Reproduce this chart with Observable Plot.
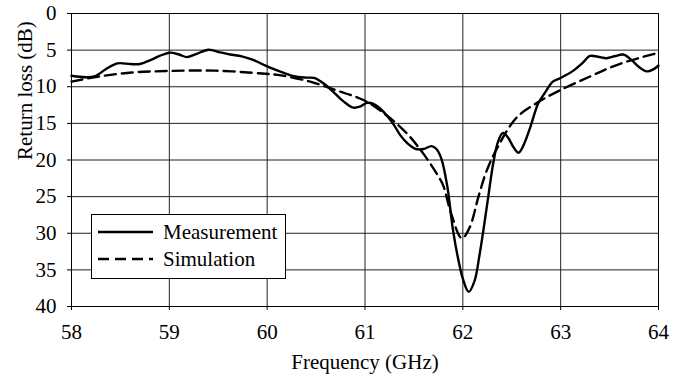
<!DOCTYPE html>
<html><head><meta charset="utf-8">
<script src="https://cdn.jsdelivr.net/npm/d3@7"></script>
<script src="https://cdn.jsdelivr.net/npm/@observablehq/plot@0.6"></script>
<style>
html,body{margin:0;padding:0;background:#fff;}
#wrap{position:relative;width:684px;height:377px;font-family:"Liberation Serif","Times New Roman",serif;}
#legend{position:absolute;left:91px;top:214px;}
svg text{font-family:"Liberation Serif","Times New Roman",serif !important;}
</style>
</head><body>
<div id="wrap"><div id="chart"></div><div id="legend"></div></div>
<script>
const xTicks = [58, 59, 60, 61, 62, 63, 64];
const yTicks = [0, 5, 10, 15, 20, 25, 30, 35, 40];
const seriesNames = ["Measurement", "Simulation"];

const measFreq = [58.00,58.15,58.25,58.35,58.47,58.60,58.70,58.80,58.90,59.00,59.10,59.18,59.28,59.40,59.52,59.62,59.74,59.85,59.95,60.05,60.15,60.27,60.40,60.48,60.55,60.62,60.70,60.78,60.88,60.95,61.02,61.08,61.15,61.22,61.30,61.36,61.44,61.52,61.60,61.68,61.73,61.78,61.84,61.90,61.96,62.00,62.06,62.12,62.17,62.21,62.26,62.31,62.36,62.41,62.46,62.52,62.57,62.62,62.69,62.77,62.84,62.92,63.00,63.13,63.22,63.30,63.38,63.47,63.56,63.64,63.72,63.80,63.88,63.95,64.00];
const measLoss = [8.5,8.7,8.5,7.6,6.8,6.9,6.9,6.4,5.8,5.35,5.6,5.95,5.5,4.95,5.3,5.6,5.85,6.3,6.9,7.5,8.0,8.55,8.75,8.8,9.3,10.0,11.0,12.0,12.85,12.7,12.2,12.3,12.9,13.9,15.3,16.6,17.8,18.5,18.5,18.1,18.5,19.8,23.5,29.6,34.0,36.2,38.0,36.5,33.0,29.6,25.0,20.5,17.5,16.3,16.9,18.3,19.0,18.0,15.5,12.3,10.8,9.3,8.8,7.8,6.8,5.8,5.9,6.1,5.8,5.6,6.3,7.3,7.9,7.6,7.1];

const simFreq = [58.00,58.28,58.62,59.00,59.47,59.95,60.14,60.44,60.71,60.99,61.22,61.43,61.60,61.73,61.80,61.88,61.99,62.07,62.16,62.24,62.35,62.55,62.77,62.99,63.30,63.60,64.00];
const simLoss = [9.3,8.6,8.05,7.85,7.8,8.2,8.45,9.3,10.5,11.85,13.9,16.4,19.2,21.8,23.5,27.3,30.7,29.2,25.0,21.6,18.4,14.2,12.1,10.5,8.6,6.9,5.35];

const meas = measFreq.map((f, i) => ({f, v: measLoss[i]}));
const sim = simFreq.map((f, i) => ({f, v: simLoss[i]}));

const font = "Liberation Serif, Times New Roman, serif";
const chart = Plot.plot({
  width: 684, height: 377,
  marginLeft: 71, marginRight: 26, marginTop: 13, marginBottom: 71,
  style: {fontFamily: font, fontSize: "21px", color: "#000", background: "#fff", overflow: "visible"},
  x: {domain: [58, 64]},
  y: {domain: [0, 40], reverse: true},
  marks: [
    Plot.gridX(xTicks, {stroke: "#222", strokeOpacity: 1, strokeWidth: 1}),
    Plot.gridY(yTicks, {stroke: "#222", strokeOpacity: 1, strokeWidth: 1}),
    Plot.frame({stroke: "#000", strokeWidth: 1}),
    Plot.axisX(xTicks, {tickSize: 4, tickPadding: 14, label: null, fontSize: 21, fontFamily: font, fontVariant: "normal", stroke: "#000"}),
    Plot.axisY(yTicks, {tickSize: 4, tickPadding: 11, label: null, fontSize: 21, fontFamily: font, fontVariant: "normal", stroke: "#000"}),
    Plot.line(sim, {x: "f", y: "v", stroke: "#000", strokeWidth: 2.4, strokeDasharray: "11,6", curve: "catmull-rom"}),
    Plot.line(meas, {x: "f", y: "v", stroke: "#000", strokeWidth: 2.4, curve: "catmull-rom"}),
    Plot.text(["Frequency (GHz)"], {frameAnchor: "bottom", dy: 62, lineAnchor: "bottom", fontSize: 21, fontFamily: font, fill: "#000"}),
    Plot.text(["Return loss (dB)"], {frameAnchor: "left", dx: -46, rotate: -90, fontSize: 21, fontFamily: font, fill: "#000"})
  ]
});
document.getElementById("chart").appendChild(chart);

// legend
const lg = d3.select("#legend").append("svg").attr("width", 196).attr("height", 66)
  .style("font-family", font).style("font-size", "21px");
lg.append("rect").attr("x", 0.5).attr("y", 0.5).attr("width", 194).attr("height", 64)
  .attr("fill", "#fff").attr("stroke", "#000").attr("stroke-width", 1);
const dashes = [null, "11,6"];
seriesNames.forEach((name, i) => {
  const y = 18 + i * 27;
  lg.append("line").attr("x1", 7).attr("x2", 62).attr("y1", y).attr("y2", y)
    .attr("stroke", "#000").attr("stroke-width", 2.4).attr("stroke-dasharray", dashes[i]);
  lg.append("text").attr("x", 72).attr("y", y).attr("dy", "0.34em").attr("fill", "#000").text(name);
});
</script>
</body></html>
